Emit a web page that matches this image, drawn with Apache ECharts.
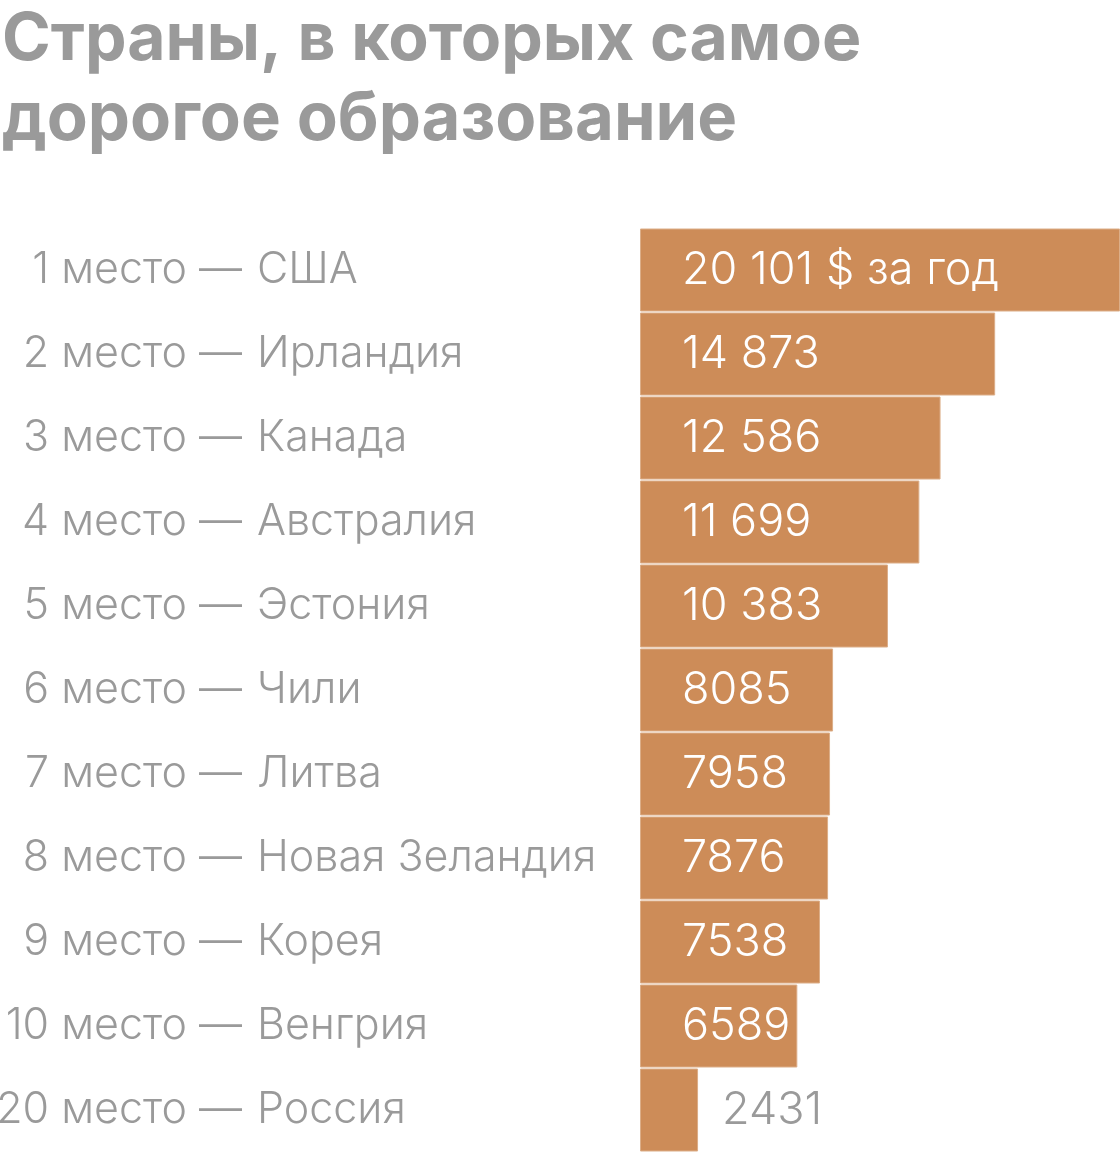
<!DOCTYPE html>
<html>
<head>
<meta charset="utf-8">
<script src="https://cdn.jsdelivr.net/npm/echarts@6/dist/echarts.min.js"></script>
<style>
  html, body { margin: 0; padding: 0; background: #fff; }
  #main { width: 1120px; height: 1152px; }
</style>
</head>
<body>
<div id="main"></div>
<script>
const places = ['1', '2', '3', '4', '5', '6', '7', '8', '9', '10', '20'];
const countries = ['США', 'Ирландия', 'Канада', 'Австралия', 'Эстония', 'Чили', 'Литва', 'Новая Зеландия', 'Корея', 'Венгрия', 'Россия'];
const values = [20101, 14873, 12586, 11699, 10383, 8085, 7958, 7876, 7538, 6589, 2431];

const chart = echarts.init(document.getElementById('main'));

const font = 'Inter, "Noto Sans", sans-serif';
const grey = '#9a9a9a';
const barColor = '#cd8c58';

// 4-digit numbers without space, 5+ with a space between groups
function fmt(v) {
  let s = String(v);
  if (s.length > 4) s = s.slice(0, s.length - 3) + ' ' + s.slice(-3);
  return s;
}

const barData = values.map(function (v, i) {
  let item = { value: v };
  if (v < 5000) {
    // small bar: label outside, grey
    item.label = { position: [82, '50%'], color: grey };
  }
  return item;
});

const option = {
  animation: false,
  title: {
    text: '{a|Страны, в которых самое}\n{b|дорогое образование}',
    left: -3,
    top: -5,
    textStyle: {
      fontFamily: font,
      fontSize: 66,
      fontWeight: 'bold',
      color: grey,
      lineHeight: 80,
      rich: {
        a: { fontFamily: font, fontSize: 66, fontWeight: 'bold', color: grey, lineHeight: 80 },
        b: { fontFamily: font, fontSize: 67, fontWeight: 'bold', color: grey, lineHeight: 80 }
      }
    }
  },
  grid: { left: 640, right: 0, top: 228, bottom: 0, outerBoundsMode: 'none' },
  xAxis: {
    type: 'value',
    min: 0,
    max: 20101,
    show: false
  },
  yAxis: [
    {
      type: 'category',
      inverse: true,
      data: places,
      axisLine: { show: false },
      axisTick: { show: false },
      axisLabel: {
        align: 'right',
        margin: 398,
        color: grey,
        fontFamily: font,
        fontSize: 43,
        fontWeight: 300,
        formatter: function (p) { return p + ' место —'; }
      }
    },
    {
      type: 'category',
      inverse: true,
      position: 'left',
      data: countries,
      axisLine: { show: false },
      axisTick: { show: false },
      axisLabel: {
        align: 'left',
        margin: 383,
        color: grey,
        fontFamily: font,
        fontSize: 43,
        fontWeight: 300
      }
    }
  ],
  series: [
    {
      type: 'bar',
      data: barData,
      barWidth: 83,
      itemStyle: { color: barColor, borderColor: '#dcae88', borderWidth: 1 },
      label: {
        show: true,
        position: [42, '50%'],
        verticalAlign: 'middle',
        color: '#fff',
        fontFamily: font,
        fontSize: 45,
        fontWeight: 300,
        formatter: function (p) {
          return p.dataIndex === 0 ? fmt(p.value) + ' $ за год' : fmt(p.value);
        }
      }
    }
  ]
};

chart.setOption(option);
</script>
</body>
</html>
